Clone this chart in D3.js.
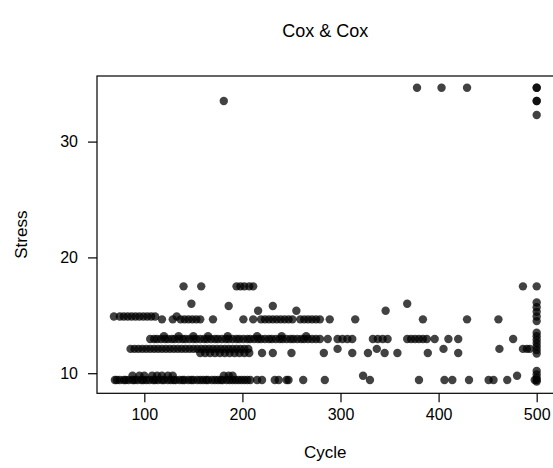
<!DOCTYPE html>
<html><head><meta charset="utf-8">
<script src="https://cdn.jsdelivr.net/npm/d3@7"></script>
<style>body{margin:0;background:#fff}svg{display:block}text{font-family:"Liberation Sans",Arial,sans-serif}</style>
</head><body>
<script>
// Stress levels with the cycles observed at each level
const level_9_4  = [70,72,75,79,81,84,88,90,93,97,99,102,105,109,111,114,118,120,124,127,130,132,136,139,141,145,148,150,154,157,160,163,165,169,172,175,178,180,184,187,190,193,196,199,202,205,208,215,220,233,237,245,247,262,284,330,380,406,414,431,451,456,470,498,500];
const level_9_8  = [88,95,100,108,113,118,124,129,181,186,190,323,480];
const level_11_75 = [157,162,167,172,177,182,187,192,197,202,207,220,231,250,283,312,328,345,358,389,420];
const level_12_1 = [86,90,94,98,102,106,110,114,118,122,126,130,134,138,142,146,150,154,158,162,166,170,174,178,182,186,190,194,198,202,206,297,337,405,462,486,490,493];
const level_12_95 = [106,110,113,117,121,124,128,131,135,139,142,146,150,153,157,161,164,168,172,175,179,183,186,190,194,197,201,205,208,212,216,219,223,227,230,234,238,241,245,249,252,256,260,263,267,271,275,279,287,297,302,307,312,333,338,343,348,368,372,376,380,384,388,396,410,420,476];
const level_13_2 = [120,135,150,165,185,215,240,265];
const level_14_65 = [118,129,137,141,145,149,153,157,170,201,211,219,223,227,231,235,239,243,247,251,259,263,267,271,275,279,289,315,384,429,461];
const level_14_9 = [69,75,79,83,87,91,95,99,103,107,111,133];
const level_15_4 = [216,255,346];
const level_15_8 = [186,231];
const level_16_0 = [148,368];
const level_17_5 = [140,158,194,198,202,207,211,486,500];
const level_33_5 = [181,500];
const level_34_65 = [378,403,429,500,500];
// Extra points at cycle 500 spread over stress values
const extraCycle  = [500,500,500,500,500,500,500,500,500,500,500,500,500,500,500,500,500,500];
const extraStress = [9.28,9.6,9.9,10.2,11.7,12.0,12.3,12.6,12.9,13.2,13.5,14.5,14.9,15.3,15.7,16.1,33.5,32.3];

const levels = [
  [9.42, level_9_4],[9.78, level_9_8],[11.75, level_11_75],[12.1, level_12_1],
  [12.95, level_12_95],[13.2, level_13_2],[14.65, level_14_65],[14.9, level_14_9],
  [15.4, level_15_4],[15.8, level_15_8],[16.0, level_16_0],[17.5, level_17_5],
  [33.5, level_33_5],[34.65, level_34_65]
];
const xTicks = [100,200,300,400,500];
const yTicks = [10,20,30];

const points = [];
levels.forEach(([s, cs]) => cs.forEach(c => points.push({c, s})));
extraCycle.forEach((c,i) => points.push({c, s: extraStress[i]}));

const W = 553, H = 468;
const mLeft = 97, mTop = 76, plotW = 456.6, plotH = 317.3;

const xe = d3.extent(points, d => d.c), ye = d3.extent(points, d => d.s);
const xp = (xe[1]-xe[0])*0.04, yp = (ye[1]-ye[0])*0.04;
const x = d3.scaleLinear().domain([xe[0]-xp, xe[1]+xp]).range([mLeft, mLeft+plotW]);
const y = d3.scaleLinear().domain([ye[0]-yp, ye[1]+yp]).range([mTop+plotH, mTop]);

const svg = d3.select("body").append("svg").attr("width", W).attr("height", H);

svg.append("g").selectAll("circle").data(points).join("circle")
  .attr("cx", d => x(d.c)).attr("cy", d => y(d.s)).attr("r", 4.2)
  .attr("fill", "#000").attr("fill-opacity", 0.74);

svg.append("rect").attr("x", mLeft).attr("y", mTop).attr("width", plotW).attr("height", plotH)
  .attr("fill", "none").attr("stroke", "#000").attr("stroke-width", 1.2);

const xAxis = svg.append("g").attr("transform", `translate(0,${mTop+plotH})`)
  .call(d3.axisBottom(x).tickValues(xTicks).tickSize(9).tickPadding(6).tickFormat(d3.format("d")));
const yAxis = svg.append("g").attr("transform", `translate(${mLeft},0)`)
  .call(d3.axisLeft(y).tickValues(yTicks).tickSize(9).tickPadding(10).tickFormat(d3.format("d")));
[xAxis, yAxis].forEach(g => {
  g.select(".domain").remove();
  g.selectAll("line").attr("stroke", "#000").attr("stroke-width", 1.2);
  g.selectAll("text").attr("font-size", 16).attr("fill", "#000")
    .style("font-family", '"Liberation Sans", Arial, sans-serif');
});

svg.append("text").attr("x", mLeft+plotW/2).attr("y", 37).attr("text-anchor","middle")
  .attr("font-size", 18).text("Cox & Cox");
svg.append("text").attr("x", mLeft+plotW/2).attr("y", 458).attr("text-anchor","middle")
  .attr("font-size", 17).text("Cycle");
svg.append("text").attr("transform", `translate(27,${mTop+plotH/2}) rotate(-90)`).attr("text-anchor","middle")
  .attr("font-size", 17).text("Stress");
</script>
</body></html>
